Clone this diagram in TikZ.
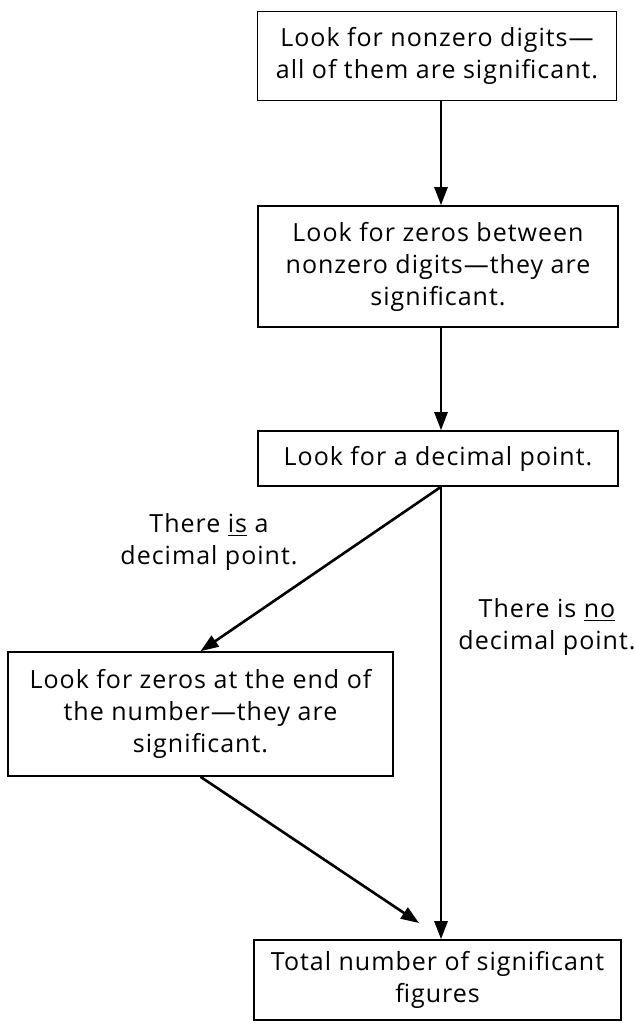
\documentclass[tikz,border=0pt]{standalone}
\usepackage{fontspec}
\setmainfont[LetterSpace=4]{Open Sans}
\usepackage{tikz}
\usetikzlibrary{arrows.meta}

\tikzset{
    flowbox/.style={draw, line width=0.8pt, align=center, inner sep=0pt,
        font=\fontsize{12.5}{16}\selectfont},
    note/.style={align=center, inner sep=0pt, font=\fontsize{12.5}{16}\selectfont},
    arr/.style={line width=1.3pt, -{Triangle[length=9pt, width=6.5pt]}}
}

\begin{document}
\begin{tikzpicture}[x=0.5pt, y=-0.5pt]
    \useasboundingbox (0,0) rectangle (635,1026);

    \node[flowbox, minimum width=179.5pt, minimum height=44.5pt] (nonzero) at (437,56)
        {Look for nonzero digits---\\all of them are significant.};
    \node[flowbox, minimum width=180pt, minimum height=60.5pt] (between) at (438,266.5)
        {Look for zeros between\\nonzero digits---they are\\significant.};
    \node[flowbox, minimum width=180pt, minimum height=27.5pt] (point) at (438,458.5)
        {Look for a decimal point.};
    \node[flowbox, minimum width=192.5pt, minimum height=62pt] (trailing) at (200.5,714)
        {Look for zeros at the end of\\the number---they are\\significant.};
    \node[flowbox, minimum width=183.5pt, minimum height=40pt] (total) at (437.5,980)
        {Total number of significant\\figures};

    \node[note] (yesnote) at (209,542) {There \underline{is} a\\decimal point.};
    \node[note] (nonote) at (547,627) {There is \underline{no}\\decimal point.};

    \coordinate (spine) at (441,0);
    \coordinate (tip) at (419,923);

    \draw[arr] (nonzero.south -| spine) -- (between.north -| spine);
    \draw[arr] (between.south -| spine) -- (point.north -| spine);
    \draw[arr] (point.south -| spine) -- (trailing.north);
    \draw[arr] (point.south -| spine) -- (total.north -| spine);
    \draw[arr] (trailing.south) -- (tip);
\end{tikzpicture}
\end{document}
